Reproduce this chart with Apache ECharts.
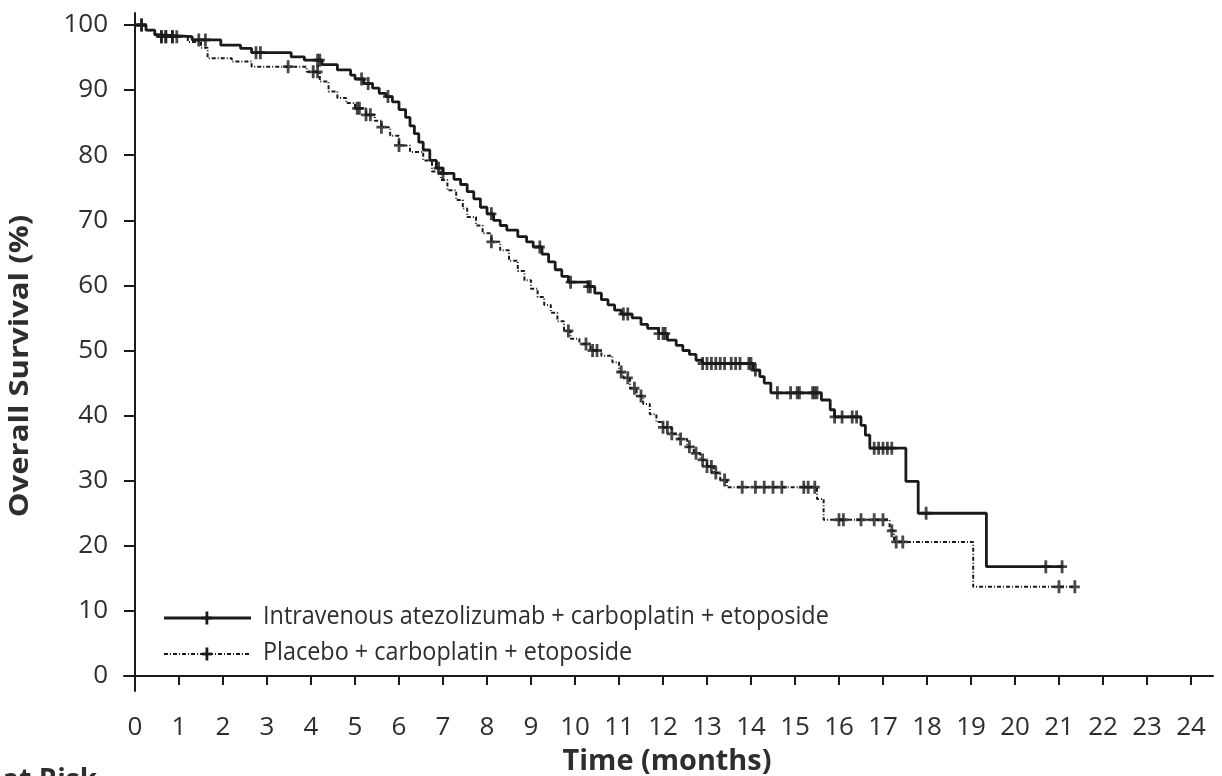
<!DOCTYPE html>
<html>
<head>
<meta charset="utf-8">
<script src="https://cdn.jsdelivr.net/npm/echarts@6/dist/echarts.min.js"></script>
<style>
  html, body { margin: 0; padding: 0; background: #ffffff; }
  #chart { width: 1222px; height: 776px; }
</style>
</head>
<body>
<div id="chart"></div>
<script>
// Kaplan-Meier overall survival, two treatment arms
const armNames = [
  'Intravenous atezolizumab + carboplatin + etoposide',
  'Placebo + carboplatin + etoposide'
];
const xTitle = 'Time (months)';
const yTitle = 'Overall Survival (%)';
const riskTitle = 'Number at Risk';

// Atezolizumab arm: event times (months) and survival (%) after each step
const atezoTime = [0, 0.25, 0.45, 0.5, 1.3, 1.95, 2.4, 2.65, 3.55, 3.85, 4.25, 4.6, 4.9, 5.0, 5.2, 5.4, 5.55, 5.7, 5.85, 6.0,
  6.15, 6.25, 6.35, 6.45, 6.55, 6.7, 6.85, 7.0, 7.25, 7.4, 7.55, 7.7, 7.85, 8.0, 8.15, 8.3, 8.45, 8.7, 8.9, 9.05,
  9.25, 9.4, 9.55, 9.7, 9.85, 10.3, 10.45, 10.6, 10.75, 10.9, 11.05, 11.3, 11.5, 11.65, 11.9, 12.1, 12.3, 12.45, 12.6, 12.75,
  12.9, 14.05, 14.2, 14.3, 14.45, 15.6, 15.8, 15.9, 16.5, 16.6, 16.7, 17.52, 17.8, 19.35, 21.1];
const atezoSurv = [100, 99.2, 98.5, 98.2, 97.7, 96.9, 96.4, 95.75, 95.1, 94.6, 93.9, 93.1, 92.3, 91.7, 91.0, 90.3, 89.5, 89.0, 88.2, 87.0,
  85.8, 84.5, 83.3, 82.0, 80.8, 79.2, 78.0, 77.2, 76.3, 75.5, 74.4, 73.3, 72.0, 71.0, 70.0, 69.2, 68.5, 67.5, 66.7, 65.9,
  64.8, 63.6, 62.4, 61.4, 60.5, 59.8, 58.8, 57.8, 57.0, 56.2, 55.6, 55.0, 54.0, 53.4, 52.6, 51.6, 50.8, 50.0, 49.4, 48.5,
  48.0, 47.0, 46.0, 45.0, 43.5, 42.4, 40.9, 39.8, 38.5, 37.0, 35.0, 29.9, 25.0, 16.8, 16.8];
const atezoCensor = [0.15, 0.6, 0.7, 0.85, 0.95, 1.45, 1.6, 2.75, 2.85, 4.15, 4.2, 5.15, 5.3, 5.75, 6.9, 7.0, 8.1, 9.2, 9.9, 10.3,
  10.35, 11.1, 11.2, 11.9, 12.0, 12.05, 12.9, 13.0, 13.1, 13.2, 13.3, 13.4, 13.55, 13.65, 13.75, 13.95, 14.0, 14.1, 14.6, 14.9,
  15.05, 15.1, 15.4, 15.45, 15.5, 15.9, 16.07, 16.3, 16.4, 16.8, 16.9, 17.0, 17.1, 17.2, 17.98, 20.7, 21.07];

// Placebo arm
const placeboTime = [0, 0.25, 0.45, 0.5, 1.2, 1.5, 1.65, 2.2, 2.65, 3.9, 4.2, 4.4, 4.6, 4.8, 5.0, 5.25, 5.45, 5.6, 5.8, 6.0,
  6.25, 6.55, 6.75, 6.95, 7.1, 7.3, 7.45, 7.55, 7.75, 7.9, 8.1, 8.3, 8.5, 8.7, 8.85, 9.0, 9.15, 9.3, 9.45, 9.6,
  9.75, 9.9, 10.1, 10.35, 10.6, 10.85, 11.0, 11.1, 11.25, 11.4, 11.55, 11.7, 11.85, 12.0, 12.2, 12.35, 12.55, 12.7, 12.85, 13.0,
  13.15, 13.3, 13.45, 15.5, 15.65, 17.15, 17.25, 19.05, 21.36];
const placeboSurv = [100, 99.2, 98.5, 98.2, 97.4, 96.5, 94.9, 94.4, 93.6, 92.8, 91.3, 89.8, 88.8, 88.0, 87.2, 86.2, 85.3, 84.3, 83.0, 81.5,
  80.5, 79.2, 77.5, 76.2, 74.6, 73.1, 71.8, 70.5, 69.2, 68.0, 66.7, 65.4, 63.8, 62.2, 60.8, 59.5, 58.2, 57.0, 55.8, 54.5,
  53.0, 51.8, 51.0, 50.0, 49.2, 48.2, 46.7, 45.8, 44.2, 43.0, 41.8, 40.2, 39.0, 38.2, 37.2, 36.4, 35.2, 34.2, 33.2, 32.2,
  31.2, 30.1, 29.0, 27.2, 24.0, 22.3, 20.6, 13.7, 13.7];
const placeboCensor = [0.15, 0.6, 0.7, 0.85, 3.48, 4.05, 4.15, 5.05, 5.1, 5.25, 5.35, 5.6, 6.0, 8.1, 9.85, 10.25, 10.4, 10.5, 11.05, 11.2,
  11.35, 11.5, 12.0, 12.1, 12.2, 12.4, 12.6, 12.75, 12.9, 13.0, 13.1, 13.2, 13.4, 13.8, 14.1, 14.3, 14.5, 14.7, 15.2, 15.3,
  15.45, 16.0, 16.1, 16.5, 16.8, 17.0, 17.2, 17.3, 17.45, 21.0, 21.36];

// Axis ticks
const monthTicks = [0, 1, 2, 3, 4, 5, 6, 7, 8, 9, 10, 11, 12, 13, 14, 15, 16, 17, 18, 19, 20, 21, 22, 23, 24];
const survivalTicks = [0, 10, 20, 30, 40, 50, 60, 70, 80, 90, 100];

const INK = '#1a1a1a';
const TEXT = '#2e2e2e';
const FONT = '"Open Sans", "Noto Sans", sans-serif';
const PLUS = 'path://M3.6,0H6.4V5.1H10V7.9H6.4V13H3.6V7.9H0V5.1H3.6Z';
const DASH = [4, 2, 1, 2];

function pairs(t, s) { return t.map((v, i) => [v, s[i]]); }
function survAt(t, s, x) {
  let v = s[0];
  for (let i = 0; i < t.length; i++) { if (t[i] <= x) v = s[i]; else break; }
  return v;
}
function censorPoints(t, s, c) { return c.map(x => [x, survAt(t, s, x)]); }

const chart = echarts.init(document.getElementById('chart'), null, { renderer: 'canvas' });

// Legend key: a line sample with a censor cross, then the arm label
function legendRow(y, dashed, label) {
  return {
    type: 'group',
    children: [
      { type: 'line', shape: { x1: 164, y1: y, x2: 251, y2: y },
        style: { stroke: INK, lineWidth: dashed ? 2 : 2.8, lineDash: dashed ? DASH : null } },
      { type: 'rect', shape: { x: 205.5, y: y - 6.5, width: 2.8, height: 13 }, style: { fill: INK } },
      { type: 'rect', shape: { x: 202, y: y - 1.4, width: 10, height: 2.8 }, style: { fill: INK } },
      { type: 'text', x: 263, y: y - 1, scaleX: 0.9,
        style: { text: label, font: '400 26px ' + FONT, fill: TEXT, verticalAlign: 'middle', align: 'left' } }
    ]
  };
}

const option = {
  animation: false,
  backgroundColor: '#ffffff',
  grid: { left: 124, right: 9, top: 13, bottom: 85, containLabel: false },
  xAxis: {
    type: 'value', min: -0.25, max: 24.5,
    axisLine: { show: true, lineStyle: { color: INK, width: 2 } },
    axisTick: { show: true, customValues: monthTicks, length: 9, inside: false, lineStyle: { color: INK, width: 2 } },
    axisLabel: { customValues: monthTicks, margin: 24, color: TEXT, fontSize: 26, fontFamily: FONT },
    splitLine: { show: false }
  },
  yAxis: {
    type: 'value', min: -2.3, max: 101.84,
    axisLine: { show: true, lineStyle: { color: INK, width: 2 } },
    axisTick: { show: true, customValues: survivalTicks, length: 11, inside: false, lineStyle: { color: INK, width: 2 } },
    axisLabel: { customValues: survivalTicks, margin: 16, color: TEXT, fontSize: 26, fontFamily: FONT },
    splitLine: { show: false }
  },
  series: [
    { name: armNames[0], type: 'line', step: 'end', data: pairs(atezoTime, atezoSurv),
      showSymbol: false, lineStyle: { color: INK, width: 2.8 }, z: 3 },
    { name: armNames[1], type: 'line', step: 'end', data: pairs(placeboTime, placeboSurv),
      showSymbol: false, lineStyle: { color: INK, width: 2, type: DASH }, z: 2 },
    { name: armNames[0] + ' censored', type: 'scatter', data: censorPoints(atezoTime, atezoSurv, atezoCensor),
      symbol: PLUS, symbolSize: [10, 13], itemStyle: { color: INK }, z: 4 },
    { name: armNames[1] + ' censored', type: 'scatter', data: censorPoints(placeboTime, placeboSurv, placeboCensor),
      symbol: PLUS, symbolSize: [10, 13], itemStyle: { color: INK }, z: 4 }
  ],
  graphic: [
    legendRow(618, false, armNames[0]),
    legendRow(654, true, armNames[1]),
    // axis titles
    { type: 'text', x: 20, y: 366, rotation: Math.PI / 2, scaleX: 1.15,
      style: { text: yTitle, font: 'bold 27px ' + FONT, fill: TEXT, align: 'center', verticalAlign: 'middle' } },
    { type: 'text', x: 667, y: 762, scaleX: 1.03,
      style: { text: xTitle, font: 'bold 28px ' + FONT, fill: TEXT, align: 'center', verticalAlign: 'middle' } },
    { type: 'text', x: 97, y: 767,
      style: { text: riskTitle, font: 'bold 28px ' + FONT, fill: TEXT, align: 'right', verticalAlign: 'top' } }
  ]
};
chart.setOption(option);
</script>
</body>
</html>
